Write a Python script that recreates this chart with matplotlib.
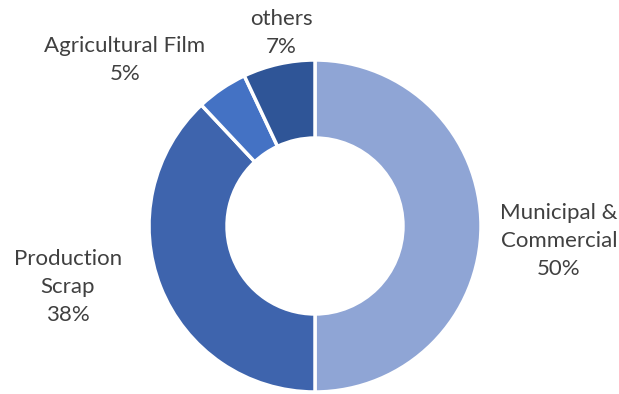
import matplotlib.pyplot as plt

# Sources of plastic waste, share of total
sources = ['Municipal &\nCommercial', 'Production\nScrap', 'Agricultural Film', 'others']
shares = [50, 38, 5, 7]
colors = ['#8FA5D5', '#3E64AD', '#4472C4', '#2F5597']

# where each label sits, in pie data units
label_pos = [(1.47, -0.09), (-1.49, -0.367), (-1.145, 1.0), (-0.205, 1.163)]

fig = plt.figure(figsize=(6.19, 3.94), dpi=100)
cx, cy, r = 315, 226, 166
ax = fig.add_axes([(cx - r) / 619, (394 - cy - r) / 394, 2 * r / 619, 2 * r / 394])

ax.pie(shares, colors=colors, startangle=90, counterclock=False, radius=1,
       wedgeprops=dict(width=0.47, edgecolor='white', linewidth=2.5))
ax.set_xlim(-1, 1)
ax.set_ylim(-1, 1)
ax.set_aspect('equal')
ax.axis('off')

for name, val, (x, y) in zip(sources, shares, label_pos):
    ax.text(x, y, f'{name}\n{val}%', ha='center', va='center', fontsize=16,
            color='#404040', family='Lato', linespacing=1.5, clip_on=False)

fig.savefig('out.png', dpi=100)
